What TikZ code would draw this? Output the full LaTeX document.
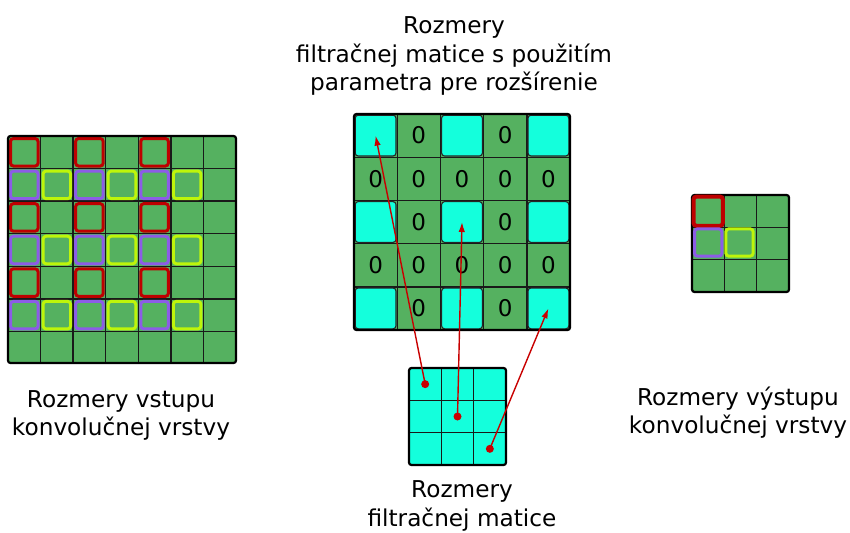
\documentclass[tikz,border=0pt]{standalone}
\usepackage{fontspec}
\setmainfont{DejaVu Sans}
\usetikzlibrary{arrows.meta}
\definecolor{cellgreen}{RGB}{85,177,96}
\definecolor{cellcyan}{RGB}{20,255,220}
\definecolor{boxred}{RGB}{190,0,0}
\definecolor{boxpurple}{RGB}{140,92,230}
\definecolor{boxlime}{RGB}{190,245,10}
\definecolor{arrowred}{RGB}{200,0,0}
\begin{document}
\begin{tikzpicture}[x=1pt,y=-1pt,
		gridline/.style={line width=1.4pt,black!90},
		outline/.style={line width=2.2pt,black,rounded corners=2.5pt},
		redbox/.style={line width=3pt,boxred,rounded corners=3pt},
		purplebox/.style={line width=3pt,boxpurple,rounded corners=3pt},
		limebox/.style={line width=3pt,boxlime,rounded corners=3pt},
		cyanbox/.style={fill=cellcyan,draw=black!85,line width=1.1pt,rounded corners=3pt},
		zero/.style={inner sep=0pt,font=\fontsize{23}{26}\selectfont},
		caption/.style={align=center,inner sep=0pt,font=\fontsize{23.2}{28.5}\selectfont},
		pointer/.style={arrowred,line width=1.4pt,-{Latex[length=10pt,width=6.5pt]}}]
			\useasboundingbox (0,0) rectangle (850,532);
			% vstup 7x7
			\pgfmathsetmacro{\cin}{228/7}
			\fill[cellgreen] (8,136) rectangle (236,363);
			\foreach \i in {1,...,6} {
			\draw[gridline] (8+\i*\cin,136) -- (8+\i*\cin,363);
			\draw[gridline] (8,136+\i*\cin) -- (236,136+\i*\cin);
			}
			\foreach \c in {0,2,4} {
			\foreach \r in {0,2,4} {
			\draw[redbox] (8+\c*\cin+2.5,136+\r*\cin+2.5) rectangle +(\cin-5,\cin-5);
			\draw[purplebox] (8+\c*\cin+2.5,136+\r*\cin+\cin+2.5) rectangle +(\cin-5,\cin-5);
			\draw[limebox] (8+\c*\cin+\cin+2.5,136+\r*\cin+\cin+2.5) rectangle +(\cin-5,\cin-5);
			}
			}
			\draw[outline] (8,136) rectangle (236,363);
			% rozsirena matica 5x5
			\pgfmathsetmacro{\cmid}{216/5}
			\fill[cellgreen] (354,114) rectangle (570,330);
			\foreach \i in {1,...,4} {
			\draw[gridline] (354+\i*\cmid,114) -- (354+\i*\cmid,330);
			\draw[gridline] (354,114+\i*\cmid) -- (570,114+\i*\cmid);
			}
			\foreach \r in {0,...,4} {
			\foreach \c in {0,...,4} {
			\pgfmathtruncatemacro{\odd}{mod(\r,2)+mod(\c,2)}
			\coordinate (d-\r-\c) at (354+\c*\cmid+\cmid/2,114+\r*\cmid+\cmid/2);
			\ifnum\odd=0
			\draw[cyanbox] (354+\c*\cmid+1.2,114+\r*\cmid+1.2) rectangle +(\cmid-2.4,\cmid-2.4);
			\else
			\node[zero] (z-\r-\c) at (d-\r-\c) {0};
			\fi
			}
			}
			\draw[outline] (354,114) rectangle (570,330);
			% filter 3x3
			\pgfmathsetmacro{\cf}{97/3}
			\fill[cellcyan] (409,368) rectangle (506,465);
			\foreach \i in {1,2} {
			\draw[gridline] (409+\i*\cf,368) -- (409+\i*\cf,465);
			\draw[gridline] (409,368+\i*\cf) -- (506,368+\i*\cf);
			}
			\draw[outline] (409,368) rectangle (506,465);
			\foreach \i in {0,1,2} {
			\coordinate (f-\i) at (409+\i*\cf+\cf/2,368+\i*\cf+\cf/2);
			\fill[arrowred] (f-\i) circle (4);
			}
			\draw[pointer] (f-0) -- (d-0-0);
			\draw[pointer] (f-1) -- (d-2-2);
			\draw[pointer] (f-2) -- (d-4-4);
			% vystup 3x3
			\fill[cellgreen] (692,195) rectangle (789,292);
			\foreach \i in {1,2} {
			\draw[gridline] (692+\i*\cf,195) -- (692+\i*\cf,292);
			\draw[gridline] (692,195+\i*\cf) -- (789,195+\i*\cf);
			}
			\draw[outline] (692,195) rectangle (789,292);
			\draw[redbox,line width=4pt] (693.5,196.5) rectangle +(\cf-3,\cf-3);
			\draw[purplebox] (694.5,195+\cf+1.5) rectangle +(\cf-5,\cf-5);
			\draw[limebox] (692+\cf+1.5,195+\cf+1.5) rectangle +(\cf-5,\cf-5);
			% popisy
			\node[caption] (title) at (454,56) {Rozmery\\filtračnej matice s použitím\\parametra pre rozšírenie};
			\node[caption] (inlabel) at (121,415.5) {Rozmery vstupu\\konvolučnej vrstvy};
			\node[caption] (outlabel) at (738,412.5) {Rozmery výstupu\\konvolučnej vrstvy};
			\node[caption] (filtlabel) at (462,506) {Rozmery\\filtračnej matice};
\end{tikzpicture}
\end{document}
